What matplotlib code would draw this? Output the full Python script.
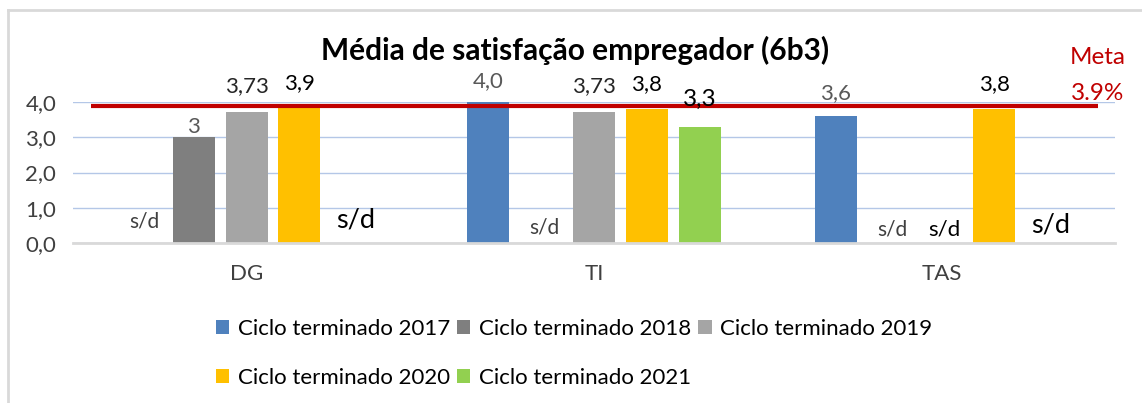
import numpy as np
import matplotlib
matplotlib.use("Agg")
import matplotlib.pyplot as plt
from matplotlib.lines import Line2D
from matplotlib.ticker import FuncFormatter

plt.rcParams['font.family'] = ['Lato', 'DejaVu Sans']

groups = ["DG", "TI", "TAS"]
series = ["Ciclo terminado 2017", "Ciclo terminado 2018", "Ciclo terminado 2019",
          "Ciclo terminado 2020", "Ciclo terminado 2021"]
colors = ["#4F81BD", "#7F7F7F", "#A5A5A5", "#FFC000", "#92D050"]

# values per series across groups (None = s/d)
v2017 = [None, 4.0, 3.6]
v2018 = [3.0, None, None]
v2019 = [3.73, 3.73, None]
v2020 = [3.9, 3.8, 3.8]
v2021 = [None, 3.3, None]
values = [v2017, v2018, v2019, v2020, v2021]

# value labels as printed on the chart
l2017 = [None, "4,0", "3,6"]
l2018 = ["3", None, None]
l2019 = ["3,73", "3,73", None]
l2020 = ["3,9", "3,8", "3,8"]
l2021 = [None, "3,3", None]
labels = [l2017, l2018, l2019, l2020, l2021]

meta = 3.9
meta_label = "3.9%"
yticks = [0, 1, 2, 3, 4]

# label styling: (color, size, offset px above bar top / axis)
lab_style = {
    (1, 0): ("#595959", 16, 10), (2, 0): ("#262626", 16, 25), (3, 0): ("#000000", 16, 22),
    (0, 1): ("#595959", 16, 21), (2, 1): ("#262626", 16, 25), (3, 1): ("#000000", 16, 25),
    (4, 1): ("#000000", 17.5, 27), (0, 2): ("#595959", 16, 23), (3, 2): ("#000000", 16, 25),
}
sd_style = {
    (0, 0): ("#404040", 15, 22), (4, 0): ("#000000", 19.5, 23),
    (1, 1): ("#404040", 15, 15), (1, 2): ("#404040", 15, 13),
    (2, 2): ("#000000", 16, 13), (4, 2): ("#000000", 19.5, 18),
}

fig = plt.figure(figsize=(11.42, 4.03), dpi=100)
ax = fig.add_axes([73 / 1142, 160 / 403, 1042 / 1142, 141 / 403])

x = np.arange(len(groups))
step = 0.152
width = 0.121
for i, (vals, labs) in enumerate(zip(values, labels)):
    pos = x + (i - 2) * step
    h = [v if v is not None else 0 for v in vals]
    ax.bar(pos, h, width=width, color=colors[i], label=series[i], zorder=2)
    for j, v in enumerate(vals):
        if v is not None:
            c, s, off = lab_style[(i, j)]
            ax.annotate(labs[j], (pos[j], v), xytext=(0, off), textcoords="offset pixels",
                        ha="center", va="center", color=c, fontsize=s, zorder=5,
                        annotation_clip=False)
        else:
            c, s, off = sd_style[(i, j)]
            ax.annotate("s/d", (pos[j] + 0.01, 0), xytext=(0, off), textcoords="offset pixels",
                        ha="center", va="center", color=c, fontsize=s, zorder=5)

ax.plot([-0.447, 2.45], [meta, meta], color="#C00000", lw=3, zorder=4, solid_capstyle="butt")
fig.text(1126 / 1142, 1 - 57 / 403, "Meta", color="#C00000", fontsize=17.5,
         ha="right", va="center")
fig.text(1124 / 1142, 1 - 93 / 403, meta_label, color="#C00000", fontsize=17.5,
         ha="right", va="center")

ax.set_xlim(-0.5, 2.5)
ax.set_ylim(0, 4)
ax.set_yticks(yticks)
ax.yaxis.set_major_formatter(FuncFormatter(lambda t, p: ("%.1f" % t).replace(".", ",")))
ax.set_xticks(x)
ax.set_xticklabels(groups)
ax.tick_params(length=0, labelsize=16, labelcolor="#404040")
ax.tick_params(axis="x", pad=15)
ax.tick_params(axis="y", pad=12)
ax.grid(axis="y", color="#B4C7E7", lw=1, zorder=0)
for sp in ["top", "right", "left"]:
    ax.spines[sp].set_visible(False)
ax.spines["bottom"].set_color("#D9D9D9")
ax.spines["bottom"].set_linewidth(2)

fig.text(575 / 1142, 1 - 50 / 403, "Média de satisfação empregador (6b3)", ha="center",
         va="center", fontsize=21.5, fontweight="bold")

h, l = ax.get_legend_handles_labels()
order = [0, 3, 1, 4, 2]
fig.legend([h[k] for k in order], [l[k] for k in order], ncol=3, loc="upper left",
           bbox_to_anchor=(216 / 1142, 1 - 319 / 403), frameon=False, fontsize=16,
           handlelength=0.6, handleheight=0.6, handletextpad=0.37, columnspacing=0.33,
           labelspacing=1.3, borderpad=0, borderaxespad=0)

# outer chart border
fig.add_artist(Line2D([8 / 1142, 1], [1 - 10 / 403, 1 - 10 / 403], color="#D9D9D9", lw=2))
fig.add_artist(Line2D([8 / 1142, 8 / 1142], [0, 1 - 10 / 403], color="#D9D9D9", lw=2))

fig.savefig("out.png", dpi=100)
